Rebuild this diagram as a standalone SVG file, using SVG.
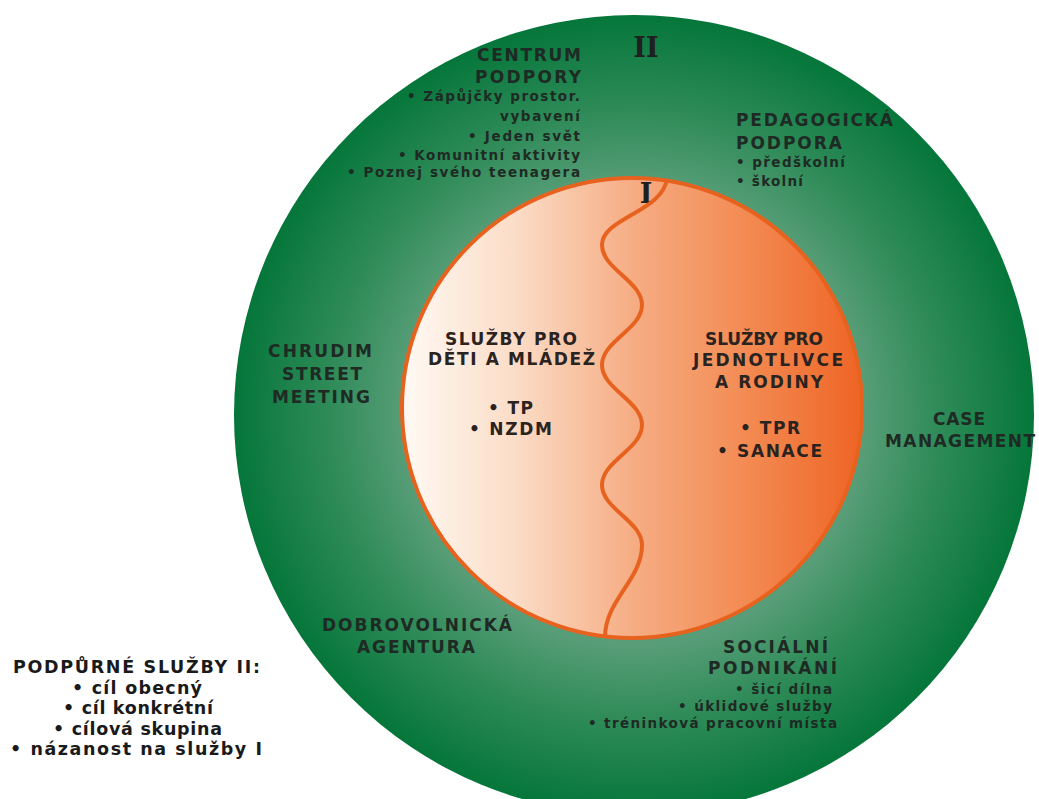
<svg xmlns="http://www.w3.org/2000/svg" width="1039" height="799" viewBox="0 0 1039 799">
<defs>
<radialGradient id="gGreen" cx="634" cy="415" r="400" gradientUnits="userSpaceOnUse">
<stop offset="0" stop-color="#6fa98a"/>
<stop offset="0.58" stop-color="#579d77"/>
<stop offset="0.75" stop-color="#318c5a"/>
<stop offset="1" stop-color="#05763a"/>
</radialGradient>
<linearGradient id="gOrange" x1="401" y1="0" x2="863" y2="0" gradientUnits="userSpaceOnUse">
<stop offset="0" stop-color="#fffaf5"/>
<stop offset="0.25" stop-color="#fbdcc6"/>
<stop offset="0.5" stop-color="#f6ad84"/>
<stop offset="0.75" stop-color="#f38a52"/>
<stop offset="1" stop-color="#ee6424"/>
</linearGradient>
<style>
.hd{font-family:"DejaVu Sans",Verdana,sans-serif;font-weight:bold;font-size:17px;fill:#1e2a23}
.bl{font-family:"DejaVu Sans",Verdana,sans-serif;font-weight:bold;font-size:13.5px;fill:#1e2a23}
.in{font-family:"DejaVu Sans",Verdana,sans-serif;font-weight:bold;font-size:17px;fill:#2a2320}
.lg{font-family:"DejaVu Sans",Verdana,sans-serif;font-weight:bold;font-size:17.5px;fill:#1a1a1a}
.rn{font-family:"DejaVu Serif","Liberation Serif",serif;font-weight:bold;fill:#1e2022}
</style>
</defs>
<rect width="1039" height="799" fill="#ffffff"/>
<g id="ring-II">
<circle cx="634" cy="415" r="400" fill="url(#gGreen)"/>
<text class="rn" x="646" y="57" font-size="27" text-anchor="middle">II</text>
</g>
<g id="circle-I">
<circle cx="632" cy="408" r="230" fill="url(#gOrange)" stroke="#e8621f" stroke-width="4"/>
<text class="rn" x="646" y="203" font-size="27" text-anchor="middle">I</text>
</g>
<g id="connectors">
<path d="M667,179 C662,212 602,218 602,245 C602,269 642,281 642,305 C642,329 602,341 602,365 C602,389 642,401 642,425 C642,449 602,461 602,485 C602,509 642,521 642,545 C642,580 605,600 605,637" fill="none" stroke="#e8621f" stroke-width="4"/>
</g>
<g id="centrum-podpory">
<text class="hd" x="477" y="61" textLength="104" lengthAdjust="spacing">CENTRUM</text>
<text class="hd" x="475" y="83" textLength="106" lengthAdjust="spacing">PODPORY</text>
<text class="bl" x="407" y="101" textLength="173" lengthAdjust="spacing">• Zápůjčky prostor.</text>
<text class="bl" x="500" y="121" textLength="80" lengthAdjust="spacing">vybavení</text>
<text class="bl" x="468" y="141" textLength="112" lengthAdjust="spacing">• Jeden svět</text>
<text class="bl" x="398" y="160" textLength="182" lengthAdjust="spacing">• Komunitní aktivity</text>
<text class="bl" x="347" y="177" textLength="233" lengthAdjust="spacing">• Poznej svého teenagera</text>
</g>
<g id="pedagogicka-podpora">
<text class="hd" x="736" y="126" textLength="157" lengthAdjust="spacing">PEDAGOGICKÁ</text>
<text class="hd" x="736" y="149" textLength="106" lengthAdjust="spacing">PODPORA</text>
<text class="bl" x="736" y="167" textLength="109" lengthAdjust="spacing">• předškolní</text>
<text class="bl" x="736" y="186" textLength="67" lengthAdjust="spacing">• školní</text>
</g>
<g id="chrudim-street-meeting">
<text class="hd" x="268" y="357" textLength="104" lengthAdjust="spacing">CHRUDIM</text>
<text class="hd" x="282" y="380" textLength="80" lengthAdjust="spacing">STREET</text>
<text class="hd" x="272" y="403" textLength="98" lengthAdjust="spacing">MEETING</text>
</g>
<g id="case-management">
<text class="hd" x="933" y="425" textLength="52" lengthAdjust="spacing">CASE</text>
<text class="hd" x="885" y="447" textLength="150" lengthAdjust="spacing">MANAGEMENT</text>
</g>
<g id="dobrovolnicka-agentura">
<text class="hd" x="322" y="631" textLength="190" lengthAdjust="spacing">DOBROVOLNICKÁ</text>
<text class="hd" x="357" y="653" textLength="118" lengthAdjust="spacing">AGENTURA</text>
</g>
<g id="socialni-podnikani">
<text class="hd" x="723" y="653" textLength="105" lengthAdjust="spacing">SOCIÁLNÍ</text>
<text class="hd" x="708" y="674" textLength="129" lengthAdjust="spacing">PODNIKÁNÍ</text>
<text class="bl" x="735" y="694" textLength="97" lengthAdjust="spacing">• šicí dílna</text>
<text class="bl" x="678" y="711" textLength="154" lengthAdjust="spacing">• úklidové služby</text>
<text class="bl" x="588" y="728" textLength="249" lengthAdjust="spacing">• tréninková pracovní místa</text>
</g>
<g id="sluzby-deti">
<text class="in" x="445" y="345" textLength="132" lengthAdjust="spacing">SLUŽBY PRO</text>
<text class="in" x="428" y="365" textLength="167" lengthAdjust="spacing">DĚTI A MLÁDEŽ</text>
<text class="in" x="488" y="414" textLength="45" lengthAdjust="spacing">• TP</text>
<text class="in" x="469" y="435" textLength="83" lengthAdjust="spacing">• NZDM</text>
</g>
<g id="sluzby-rodiny">
<text class="in" x="705" y="345" textLength="118" lengthAdjust="spacing">SLUŽBY PRO</text>
<text class="in" x="693" y="366" textLength="150" lengthAdjust="spacing">JEDNOTLIVCE</text>
<text class="in" x="715" y="388" textLength="108" lengthAdjust="spacing">A RODINY</text>
<text class="in" x="740" y="434" textLength="60" lengthAdjust="spacing">• TPR</text>
<text class="in" x="717" y="457" textLength="105" lengthAdjust="spacing">• SANACE</text>
</g>
<g id="legend">
<text class="lg" x="13" y="673" textLength="247" lengthAdjust="spacing">PODPŮRNÉ SLUŽBY II:</text>
<text class="lg" x="72" y="694" textLength="130" lengthAdjust="spacing">• cíl obecný</text>
<text class="lg" x="63" y="714" textLength="150" lengthAdjust="spacing">• cíl konkrétní</text>
<text class="lg" x="53" y="735" textLength="169" lengthAdjust="spacing">• cílová skupina</text>
<text class="lg" x="10" y="755" textLength="252" lengthAdjust="spacing">• názanost na služby I</text>
</g>
</svg>
